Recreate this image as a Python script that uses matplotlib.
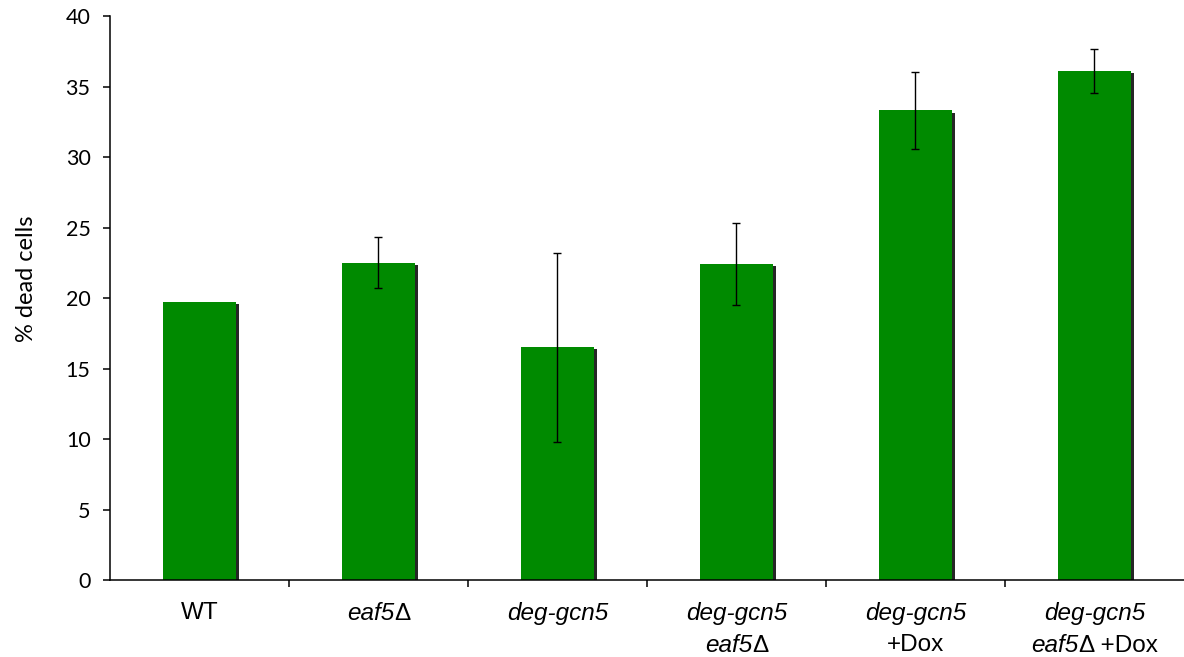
import matplotlib
matplotlib.use('Agg')
import matplotlib.pyplot as plt
import matplotlib.patheffects as pe
from matplotlib.offsetbox import TextArea, HPacker, VPacker, AnnotationBbox
import numpy as np

plt.rcParams['font.family'] = ['Liberation Sans', 'DejaVu Sans']

# strain labels: list of lines, each line a list of (text, italic) pieces
labels = [
    [[('WT', False)]],
    [[('eaf5', True), ('\u0394', False)]],
    [[('deg-gcn5', True)]],
    [[('deg-gcn5', True)], [('eaf5', True), ('\u0394', False)]],
    [[('deg-gcn5', True)], [('+Dox', False)]],
    [[('deg-gcn5', True)], [('eaf5', True), ('\u0394 +Dox', False)]],
]
dead = [19.7, 22.5, 16.5, 22.4, 33.3, 36.1]
err = [0, 1.8, 6.7, 2.9, 2.75, 1.55]

fig = plt.figure(figsize=(11.84, 6.57), dpi=100)
ax = fig.add_axes([0.0929, 0.1172, 0.9071, 0.8584])

x = np.arange(len(dead))
bars = ax.bar(x, dead, width=0.41, color='#008a00', zorder=2)
for b in bars:
    b.set_path_effects([pe.SimplePatchShadow(offset=(2, -1.5), shadow_rgbFace='black', alpha=0.85),
                        pe.Normal()])

ax.errorbar(x[1:], dead[1:], yerr=err[1:], fmt='none', ecolor='black',
            elinewidth=1, capsize=3, capthick=1, zorder=3)

ax.set_xlim(-0.5, len(dead) - 0.5)
ax.set_ylim(0, 40)
ax.set_yticks(range(0, 41, 5))
ax.tick_params(axis='y', direction='out', length=5, width=1.1, labelsize=15.5, pad=9)
for t in ax.get_yticklabels():
    t.set_fontfamily('Lato')

ax.set_xticks(x)
ax.set_xticklabels([])
ax.tick_params(axis='x', which='major', length=0)
ax.set_xticks(np.arange(0.5, len(dead) - 0.5), minor=True)
ax.tick_params(axis='x', which='minor', direction='out', length=5, width=1.1)

ax.spines['top'].set_visible(False)
ax.spines['right'].set_visible(False)
ax.spines['left'].set_linewidth(1.1)
ax.spines['bottom'].set_linewidth(1.1)

ax.set_ylabel('% dead cells', fontsize=17, family='Lato')
ax.yaxis.set_label_coords(-0.068, 0.534)

# multi-line labels with mixed italic / upright text
for i, lines in enumerate(labels):
    rows = []
    for line in lines:
        parts = [TextArea(t, textprops=dict(fontsize=17.5, style='italic' if it else 'normal'))
                 for t, it in line]
        rows.append(HPacker(children=parts, align='baseline', pad=0, sep=0))
    box = VPacker(children=rows, align='center', pad=0, sep=6)
    ab = AnnotationBbox(box, (i, 0), xycoords=ax.get_xaxis_transform(),
                        xybox=(0, -16), boxcoords='offset points',
                        box_alignment=(0.5, 1), frameon=False, pad=0)
    ax.add_artist(ab)

fig.savefig('out.png', dpi=100)
